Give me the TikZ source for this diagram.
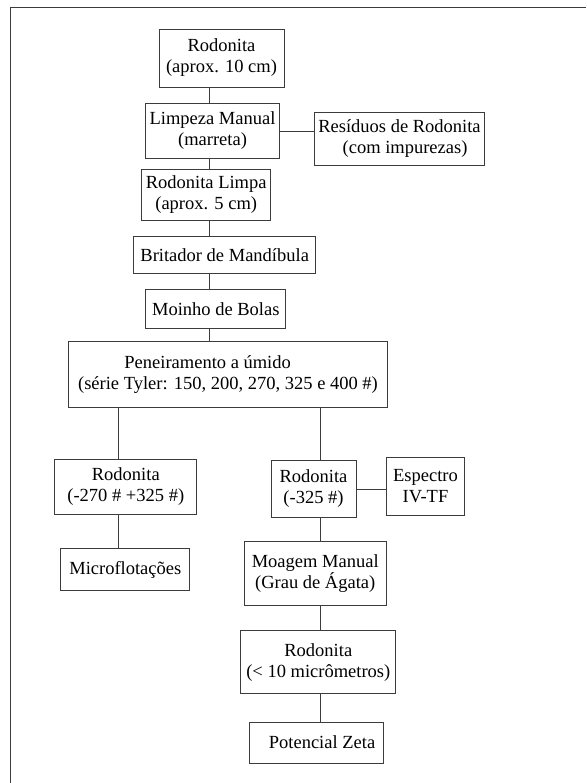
\documentclass[tikz,border=0pt]{standalone}
\usepackage{fontspec}
\setmainfont{Liberation Serif}
\definecolor{frameline}{RGB}{60,60,60}
\tikzset{
  every node/.style={font=\fontsize{18.5}{21}\selectfont},
  procbox/.style={rectangle, draw=frameline, line width=0.9pt, fill=white,
    inner sep=0pt, align=center},
  link/.style={draw=frameline, line width=0.9pt}
}
\begin{document}
\begin{tikzpicture}[x=1pt,y=-1pt,line cap=butt,line join=miter]
  \useasboundingbox (0,0) rectangle (586,783);

  % frame
  \draw[link] (10.5,783) -- (10.5,7.5) -- (586,7.5);

  % main chain
  \node[procbox, minimum width=125pt, minimum height=58pt] (raw) at (221.5,58) {Rodonita\\(aprox. 10 cm)};
  \node[procbox, minimum width=134pt, minimum height=55pt] (manual) at (212.5,131) {Limpeza Manual\\(marreta)};
  \node[procbox, minimum width=170pt, minimum height=53pt] (residue) at (399.5,139) {Resíduos de Rodonita\\\hspace*{0.6em}(com impurezas)};
  \node[procbox, minimum width=129pt, minimum height=51pt] (clean) at (206.2,194.7) {Rodonita Limpa\\(aprox. 5 cm)};
  \node[procbox, minimum width=182pt, minimum height=37pt] (crusher) at (224.7,255) {Britador de Mandíbula};
  \node[procbox, minimum width=140pt, minimum height=39pt] (mill) at (215.8,309) {Moinho de Bolas};
  \node[procbox, minimum width=319pt, minimum height=66pt] (sieve) at (228,374.7) {\hspace*{-2.2em}Peneiramento a úmido\\(série Tyler: 150, 200, 270, 325 e 400 \#)};

  % left branch
  \node[procbox, minimum width=142pt, minimum height=55pt] (coarse) at (125.8,486.7) {Rodonita\\(-270 \# +325 \#)};
  \node[procbox, minimum width=129pt, minimum height=42pt] (flot) at (125.3,569.5) {Microflotações};

  % right branch
  \node[procbox, minimum width=85pt, minimum height=57pt] (fine) at (313.5,489) {Rodonita\\(-325 \#)};
  \node[procbox, minimum width=78pt, minimum height=58pt] (ftir) at (425.5,486) {Espectro\\IV-TF};
  \node[procbox, minimum width=142pt, minimum height=64pt] (mortar) at (315.2,573.5) {Moagem Manual\\(Grau de Ágata)};
  \node[procbox, minimum width=155pt, minimum height=63pt] (micro) at (318.3,662.4) {Rodonita\\(< 10 micrômetros)};
  \node[procbox, minimum width=134pt, minimum height=41pt] (zeta) at (316.5,742.5) {\hspace*{0.6em}Potencial Zeta};

  % connector columns
  \coordinate (maincol) at (209,0);
  \coordinate (leftcol) at (118.5,0);
  \coordinate (rightcol) at (320,0);

  \draw[link] (raw.south -| maincol) -- (manual.north -| maincol);
  \draw[link] (manual.south -| maincol) -- (clean.north -| maincol);
  \draw[link] (clean.south -| maincol) -- (crusher.north -| maincol);
  \draw[link] (crusher.south -| maincol) -- (mill.north -| maincol);
  \draw[link] (mill.south -| maincol) -- (sieve.north -| maincol);
  \draw[link] (manual.east) -- (manual.east -| residue.west);

  \draw[link] (sieve.south -| leftcol) -- (coarse.north -| leftcol);
  \draw[link] (coarse.south -| leftcol) -- (flot.north -| leftcol);

  \draw[link] (sieve.south -| rightcol) -- (fine.north -| rightcol);
  \draw[link] (fine.east) -- (fine.east -| ftir.west);
  \draw[link] (fine.south -| rightcol) -- (mortar.north -| rightcol);
  \draw[link] (mortar.south -| rightcol) -- (micro.north -| rightcol);
  \draw[link] (micro.south -| rightcol) -- (zeta.north -| rightcol);
\end{tikzpicture}
\end{document}
